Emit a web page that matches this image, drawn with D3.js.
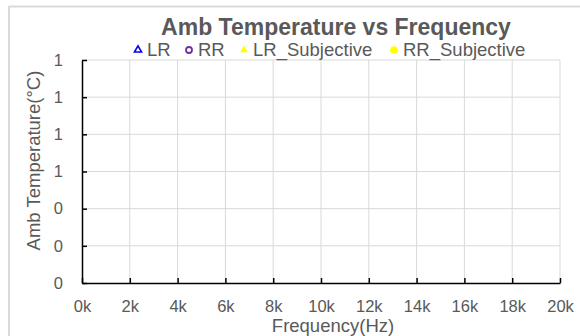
<!DOCTYPE html>
<html>
<head>
<meta charset="utf-8">
<script src="https://cdn.jsdelivr.net/npm/d3@7"></script>
<style>
  body { margin: 0; background: #fff; }
  svg { display: block; font-family: "Liberation Sans", Arial, sans-serif; }
</style>
</head>
<body>
<div id="chart"></div>
<script>
// series (no measured points in the reference)
const seriesNames = ["LR", "RR", "LR_Subjective", "RR_Subjective"];
const seriesColors = ["#0000ff", "#7030a0", "#ffff00", "#ffff00"];
const seriesShapes = ["triangleOpen", "circleOpen", "triangle", "circle"];
const LR = [];
const RR = [];
const LR_Subjective = [];
const RR_Subjective = [];
const xTicks = [0, 2000, 4000, 6000, 8000, 10000, 12000, 14000, 16000, 18000, 20000];
const yTicks = [0, 0.2, 0.4, 0.6, 0.8, 1.0, 1.2];

const width = 580;
const height = 336;
const margin = {top: 60, right: 20, bottom: 53, left: 82};
const textColor = "#595959";

const svg = d3.select("#chart")
  .append("svg")
  .attr("width", width)
  .attr("height", height);

// outer frame lines
svg.append("line")
  .attr("x1", 9).attr("x2", width).attr("y1", 6.5).attr("y2", 6.5)
  .attr("stroke", "#d9d9d9").attr("stroke-width", 2);
svg.append("line")
  .attr("x1", 9).attr("x2", 9).attr("y1", 6).attr("y2", height)
  .attr("stroke", "#d9d9d9").attr("stroke-width", 2);

const x = d3.scaleLinear()
  .domain([0, 20000])
  .range([margin.left, width - margin.right]);

const y = d3.scaleLinear()
  .domain([0, 1.2])
  .range([height - margin.bottom, margin.top]);

// grid
svg.append("g")
  .selectAll("line")
  .data(yTicks.slice(1))
  .join("line")
    .attr("x1", x(0)).attr("x2", x(20000))
    .attr("y1", d => y(d)).attr("y2", d => y(d))
    .attr("stroke", "#d9d9d9").attr("stroke-width", 1);

svg.append("g")
  .selectAll("line")
  .data(xTicks.slice(1))
  .join("line")
    .attr("x1", d => x(d)).attr("x2", d => x(d))
    .attr("y1", y(0)).attr("y2", y(1.2))
    .attr("stroke", "#d9d9d9").attr("stroke-width", 1);

// x axis
const xAxis = svg.append("g")
  .attr("transform", `translate(0, ${y(0)})`)
  .call(d3.axisBottom(x)
    .tickValues(xTicks)
    .tickFormat(d => `${d / 1000}k`)
    .tickSizeInner(-5)
    .tickSizeOuter(0)
    .tickPadding(17));
xAxis.select(".domain").attr("stroke", "#000").attr("stroke-width", 1.5);
xAxis.selectAll(".tick line").attr("stroke", "#000").attr("stroke-width", 1.5);
xAxis.selectAll("text").attr("fill", textColor).attr("font-size", 16.5);

// y axis
const yAxis = svg.append("g")
  .attr("transform", `translate(${x(0)}, 0)`)
  .call(d3.axisLeft(y)
    .tickValues(yTicks)
    .tickFormat(d3.format(".0f"))
    .tickSizeInner(-5)
    .tickSizeOuter(0)
    .tickPadding(19));
yAxis.select(".domain").attr("stroke", "#000").attr("stroke-width", 1.5);
yAxis.selectAll(".tick line").attr("stroke", "#000").attr("stroke-width", 1.5);
yAxis.selectAll("text").attr("fill", textColor).attr("font-size", 16.5);

// points (empty series)
const allSeries = [LR, RR, LR_Subjective, RR_Subjective];
allSeries.forEach((s, i) => {
  svg.append("g")
    .selectAll("circle")
    .data(s)
    .join("circle")
      .attr("cx", d => x(d[0]))
      .attr("cy", d => y(d[1]))
      .attr("r", 3)
      .attr("fill", seriesColors[i]);
});

// title
svg.append("text")
  .attr("x", 336).attr("y", 35)
  .attr("text-anchor", "middle")
  .attr("font-size", 23).attr("font-weight", "bold")
  .attr("fill", textColor)
  .text("Amb Temperature vs Frequency");

// legend
const legendX = [138, 189, 244, 394];
const legend = svg.append("g");
seriesNames.forEach((name, i) => {
  const g = legend.append("g").attr("transform", `translate(${legendX[i]}, 50)`);
  const shape = seriesShapes[i];
  if (shape.startsWith("triangle")) {
    g.append("path")
      .attr("d", d3.symbol(d3.symbolTriangle, shape === "triangle" ? 26 : 22)())
      .attr("fill", shape === "triangle" ? seriesColors[i] : "none")
      .attr("stroke", shape === "triangle" ? "none" : seriesColors[i])
      .attr("stroke-width", 1.6);
  } else {
    g.append("circle")
      .attr("r", shape === "circle" ? 3.8 : 3)
      .attr("fill", shape === "circle" ? seriesColors[i] : "none")
      .attr("stroke", shape === "circle" ? "none" : seriesColors[i])
      .attr("stroke-width", 1.8);
  }
  g.append("text")
    .attr("x", 9).attr("y", 5.5)
    .attr("font-size", 18.5)
    .attr("fill", textColor)
    .text(name);
});

// axis titles
svg.append("text")
  .attr("x", 333).attr("y", 332)
  .attr("text-anchor", "middle")
  .attr("font-size", 18.5)
  .attr("fill", textColor)
  .text("Frequency(Hz)");

svg.append("text")
  .attr("transform", `translate(40, ${(y(0) + y(1.2)) / 2 - 11}) rotate(-90)`)
  .attr("text-anchor", "middle")
  .attr("font-size", 18.5)
  .attr("fill", textColor)
  .text("Amb Temperature(°C)");
</script>
</body>
</html>
